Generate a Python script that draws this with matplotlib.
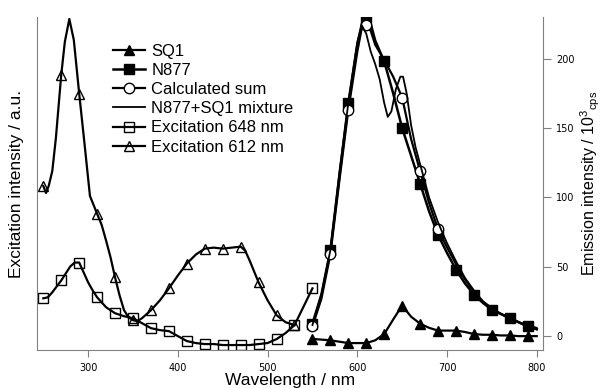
import numpy as np
import matplotlib
matplotlib.use("Agg")
import matplotlib.pyplot as plt

plt.rcParams['font.family'] = ['Liberation Sans', 'DejaVu Sans']
plt.rcParams['mathtext.fontset'] = 'custom'
plt.rcParams['mathtext.rm'] = 'Liberation Sans'

# ===== DATA =====
# excitation spectra (left axis, arbitrary units)
ex612_wl = [250, 253, 256, 260, 264, 270, 274, 279, 284, 290, 296, 302, 310, 315, 320, 325,
            330, 335, 340, 345, 350, 355, 360, 370, 380, 390, 400, 410, 420, 430, 440, 450,
            460, 470, 475, 480, 490, 500, 510, 520, 530]
ex612 = [165, 158, 165, 180, 213, 277, 310, 333, 312, 258, 207, 155, 137, 126, 110, 93,
         73, 55, 40, 33, 30, 29, 32, 40, 50, 62, 75, 87, 96, 102, 103, 102,
         103, 104, 100, 90, 68, 50, 35, 28, 25]
ex612_marks = [250, 270, 290, 310, 330, 350, 370, 390, 410, 430, 450, 470, 490, 510, 530]

ex648_wl = [250, 255, 260, 270, 280, 285, 290, 295, 300, 305, 310, 320, 330, 340, 350, 360,
            370, 380, 390, 400, 410, 420, 430, 440, 450, 460, 470, 480, 490, 500, 510, 520,
            530, 550]
ex648 = [52, 53, 58, 70, 84, 88, 88, 78, 68, 60, 53, 43, 37, 34, 32, 27,
         22, 20, 19, 14, 9, 7, 6, 6, 5, 5, 5, 5, 6, 7, 11, 17,
         25, 62]
ex648_marks = [250, 270, 290, 310, 330, 350, 370, 390, 410, 430, 450, 470, 490, 510, 530, 550]

# emission spectra (right axis, 10^3 cps)
em_wl = [550, 560, 570, 580, 590, 600, 605, 610, 615, 620, 630, 640, 650, 660, 670, 680,
         690, 700, 710, 720, 730, 740, 750, 760, 770, 780, 790, 800]
n877 = [9, 30, 62, 115, 168, 210, 225, 229, 225, 213, 198, 175, 150, 130, 110, 90,
        73, 60, 48, 38, 30, 24, 19, 16, 13, 10, 7, 5]
sq1 = [-2, -2.5, -3, -4, -5, -5, -5, -5, -4, -3, 1.5, 12, 22, 14, 9, 6,
       4, 4, 4, 3, 1.5, 1, 1, 0.5, 0.5, 0, 0, 0]
calc_sum = [7, 27, 59, 112, 163, 205, 222, 224, 220, 210, 199, 187, 172, 142, 119, 96,
            77, 64, 52, 41, 32, 25, 20, 16, 13, 10, 7, 5]
em_marks = [550, 570, 590, 610, 630, 650, 670, 690, 710, 730, 750, 770, 790]

mix_wl = [550, 560, 570, 580, 590, 600, 605, 610, 615, 620, 625, 630, 634, 638, 643, 648,
          651, 655, 660, 665, 670, 680, 690, 700, 710, 720, 730, 740, 750, 760, 770, 780,
          790, 800]
mixture = [8, 30, 62, 118, 168, 212, 224, 218, 205, 196, 185, 168, 158, 162, 178, 187,
           187, 175, 152, 136, 124, 100, 82, 67, 54, 42, 33, 25, 20, 16, 13, 10,
           8, 6]

# ===== PLOT =====
fig = plt.figure(figsize=(6.03, 3.88), dpi=100)
ax = fig.add_axes([0.0614, 0.0979, 0.8391, 0.8582])
ax2 = ax.twinx()

ms = 7.5
ln_sq1, = ax2.plot(em_wl, sq1, color='black', lw=1.6, marker='^', ms=ms,
                   markevery=list(np.isin(em_wl, em_marks)), label='SQ1')
ln_n877, = ax2.plot(em_wl, n877, color='black', lw=1.8, marker='s', ms=ms,
                    markevery=list(np.isin(em_wl, em_marks)), label='N877')
ln_calc, = ax2.plot(em_wl, calc_sum, color='black', lw=1.6, marker='o', ms=ms, mfc='white',
                    markevery=list(np.isin(em_wl, [550, 570, 590, 610, 650, 670, 690])),
                    label='Calculated sum')
ln_mix, = ax2.plot(mix_wl, mixture, color='black', lw=1.3, label='N877+SQ1 mixture')

ln_648, = ax.plot(ex648_wl, ex648, color='black', lw=1.6, marker='s', ms=ms, mfc='none',
                  markevery=list(np.isin(ex648_wl, ex648_marks)), label='Excitation 648 nm')
ln_612, = ax.plot(ex612_wl, ex612, color='black', lw=1.6, marker='^', ms=ms, mfc='none',
                  markevery=list(np.isin(ex612_wl, ex612_marks)), label='Excitation 612 nm')

ax.set_xlim(243, 807)
ax.set_ylim(0, 335)
ax2.set_ylim(-10, 230)

# ===== AXES STYLE =====
ax.set_yticks([])
ax.set_xticks([300, 400, 500, 600, 700, 800])
ax2.set_yticks([0, 50, 100, 150, 200])
for a in (ax, ax2):
    a.spines['top'].set_visible(False)
    for s in a.spines.values():
        s.set_color('0.5')
        s.set_linewidth(0.8)
ax.spines['right'].set_visible(False)
ax2.spines['left'].set_visible(False)
ax2.spines['bottom'].set_visible(False)
ax.tick_params(axis='x', direction='out', length=5, width=0.8, color='0.5',
               labelsize=7, pad=4)
ax2.tick_params(axis='y', direction='out', length=6, width=0.8, color='0.5',
                labelsize=7, pad=3.5)
for lab in ax.get_xticklabels() + ax2.get_yticklabels():
    lab.set_family('DejaVu Sans')

ax.set_xlabel('Wavelength / nm', fontsize=12.5, labelpad=0)
ax.set_ylabel('Excitation intensity / a.u.', fontsize=12.5)
ax.yaxis.set_label_coords(-0.025, 0.5)
ax2.set_ylabel('Emission intensity / 10$^{3}$$_{\\mathrm{cps}}$', fontsize=11.5)
ax2.yaxis.set_label_coords(1.07, 0.5)

ax.legend(handles=[ln_sq1, ln_n877, ln_calc, ln_mix, ln_648, ln_612],
          loc='upper left', bbox_to_anchor=(0.15, 0.92), frameon=False,
          fontsize=12, handlelength=1.9, handletextpad=0.4, labelspacing=0.25,
          borderpad=0, borderaxespad=0)

plt.savefig('out.png', dpi=100)
